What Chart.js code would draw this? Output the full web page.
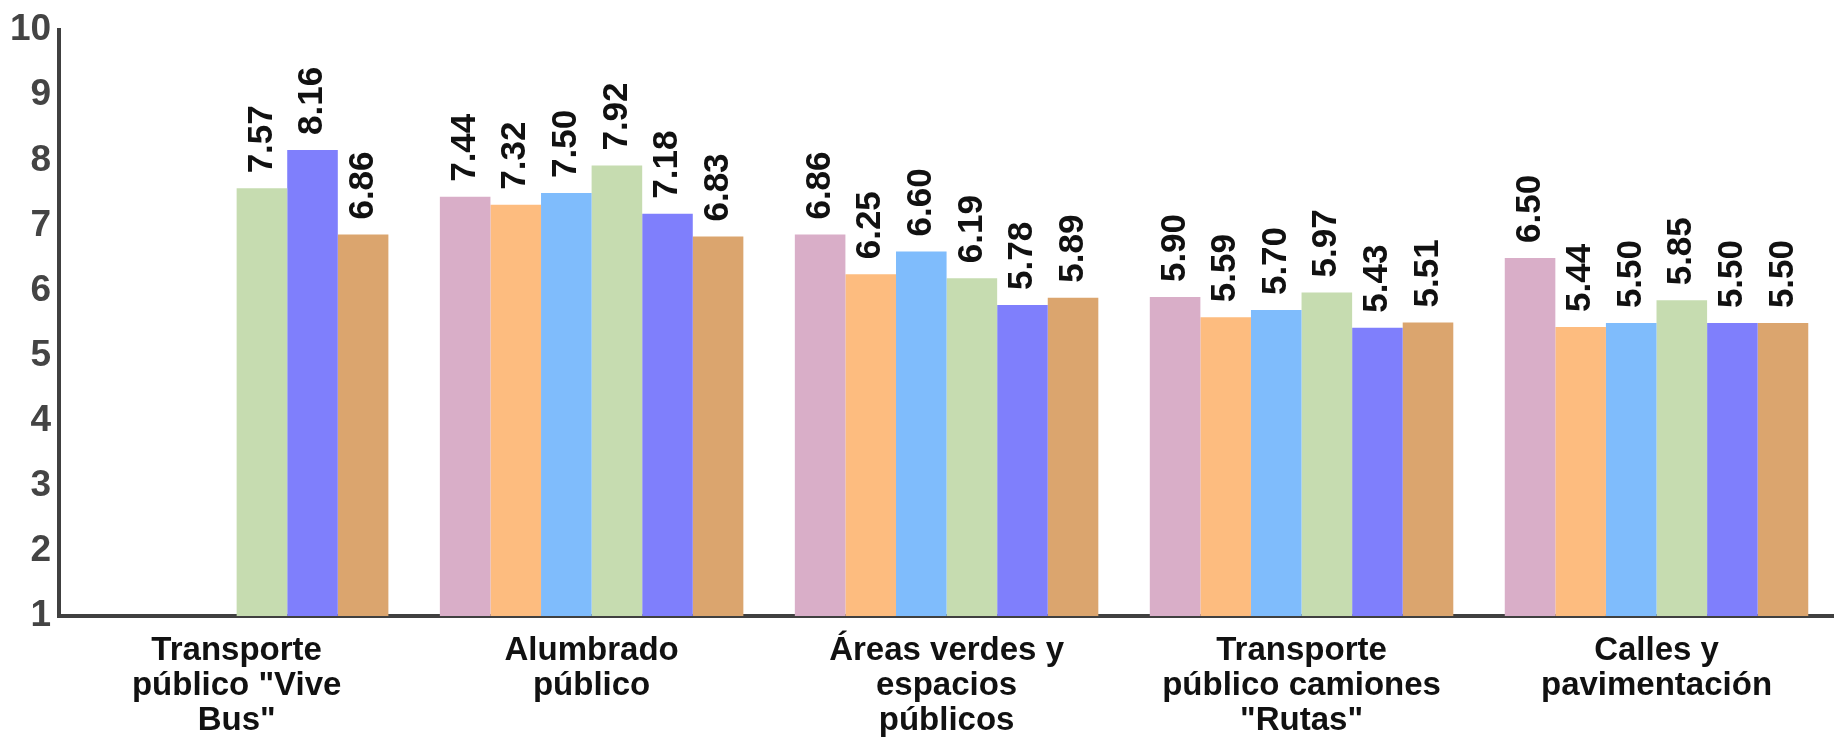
<!DOCTYPE html>
<html lang="es">
<head>
<meta charset="utf-8">
<title>Calificación de servicios públicos</title>
<script src="https://cdn.jsdelivr.net/npm/chart.js@4.4.1/dist/chart.umd.min.js"></script>
<style>
  html, body { margin: 0; padding: 0; background: #fff; }
  #wrap { width: 1834px; height: 740px; position: relative; }
</style>
</head>
<body>
<div id="wrap"><canvas id="chart"></canvas></div>
<script>
// categories (already split into lines as they appear under the axis)
const categories = [
  ["Transporte", "público \"Vive", "Bus\""],
  ["Alumbrado", "público"],
  ["Áreas verdes y", "espacios", "públicos"],
  ["Transporte", "público camiones", "\"Rutas\""],
  ["Calles y", "pavimentación"]
];

// six series, one per bar colour (no legend in the source)
const serie1 = [null, 7.44, 6.86, 5.90, 6.50];
const serie2 = [null, 7.32, 6.25, 5.59, 5.44];
const serie3 = [null, 7.50, 6.60, 5.70, 5.50];
const serie4 = [7.57, 7.92, 6.19, 5.97, 5.85];
const serie5 = [8.16, 7.18, 5.78, 5.43, 5.50];
const serie6 = [6.86, 6.83, 5.89, 5.51, 5.50];

const yTicks = [1, 2, 3, 4, 5, 6, 7, 8, 9, 10];

const colors = ["#d9aec8", "#fdbc7f", "#7fbcfc", "#c6dcb0", "#7f7ffc", "#dba56e"];
const FONT = "'Liberation Sans', Arial, Helvetica, sans-serif";

// rotated value labels above each bar
const valueLabels = {
  id: "valueLabels",
  afterDatasetsDraw(chart) {
    const { ctx } = chart;
    ctx.save();
    ctx.font = "bold 35px " + FONT;
    ctx.fillStyle = "#111";
    ctx.textAlign = "left";
    ctx.textBaseline = "middle";
    chart.data.datasets.forEach((ds, i) => {
      const meta = chart.getDatasetMeta(i);
      meta.data.forEach((bar, j) => {
        const v = ds.data[j];
        if (v == null) return;
        ctx.save();
        ctx.translate(bar.x, bar.y - 15);
        ctx.rotate(-Math.PI / 2);
        ctx.fillText(v.toFixed(2), 0, 0);
        ctx.restore();
      });
    });
    ctx.restore();
  }
};

const series = [serie1, serie2, serie3, serie4, serie5, serie6];

new Chart(document.getElementById("chart"), {
  type: "bar",
  data: {
    labels: categories,
    datasets: series.map((s, i) => ({
      data: s,
      backgroundColor: colors[i],
      borderWidth: 0,
      base: 1,
      categoryPercentage: 0.855,
      barPercentage: 1
    }))
  },
  options: {
    responsive: true,
    maintainAspectRatio: false,
    animation: false,
    layout: { padding: { left: 2, right: 0, top: 8, bottom: 0 } },
    plugins: {
      legend: { display: false },
      tooltip: { enabled: false }
    },
    scales: {
      x: {
        grid: { display: false, drawTicks: false },
        border: { display: true, color: "#404040", width: 4 },
        ticks: {
          color: "#111",
          font: { family: FONT, size: 33, weight: "bold", lineHeight: 1.05 },
          padding: 18,
          maxRotation: 0,
          autoSkip: false
        },
        // keep the plot bottom where the source has its axis
        afterFit(scale) {
          scale.height = 124;
        }
      },
      y: {
        min: yTicks[0],
        max: yTicks[yTicks.length - 1],
        afterBuildTicks(scale) {
          scale.ticks = yTicks.map((v) => ({ value: v }));
        },
        grid: { display: false, drawTicks: false },
        border: { display: true, color: "#404040", width: 4 },
        ticks: {
          color: "#444",
          font: { family: FONT, size: 37, weight: "bold" },
          padding: 8
        }
      }
    }
  },
  plugins: [valueLabels]
});
</script>
</body>
</html>
